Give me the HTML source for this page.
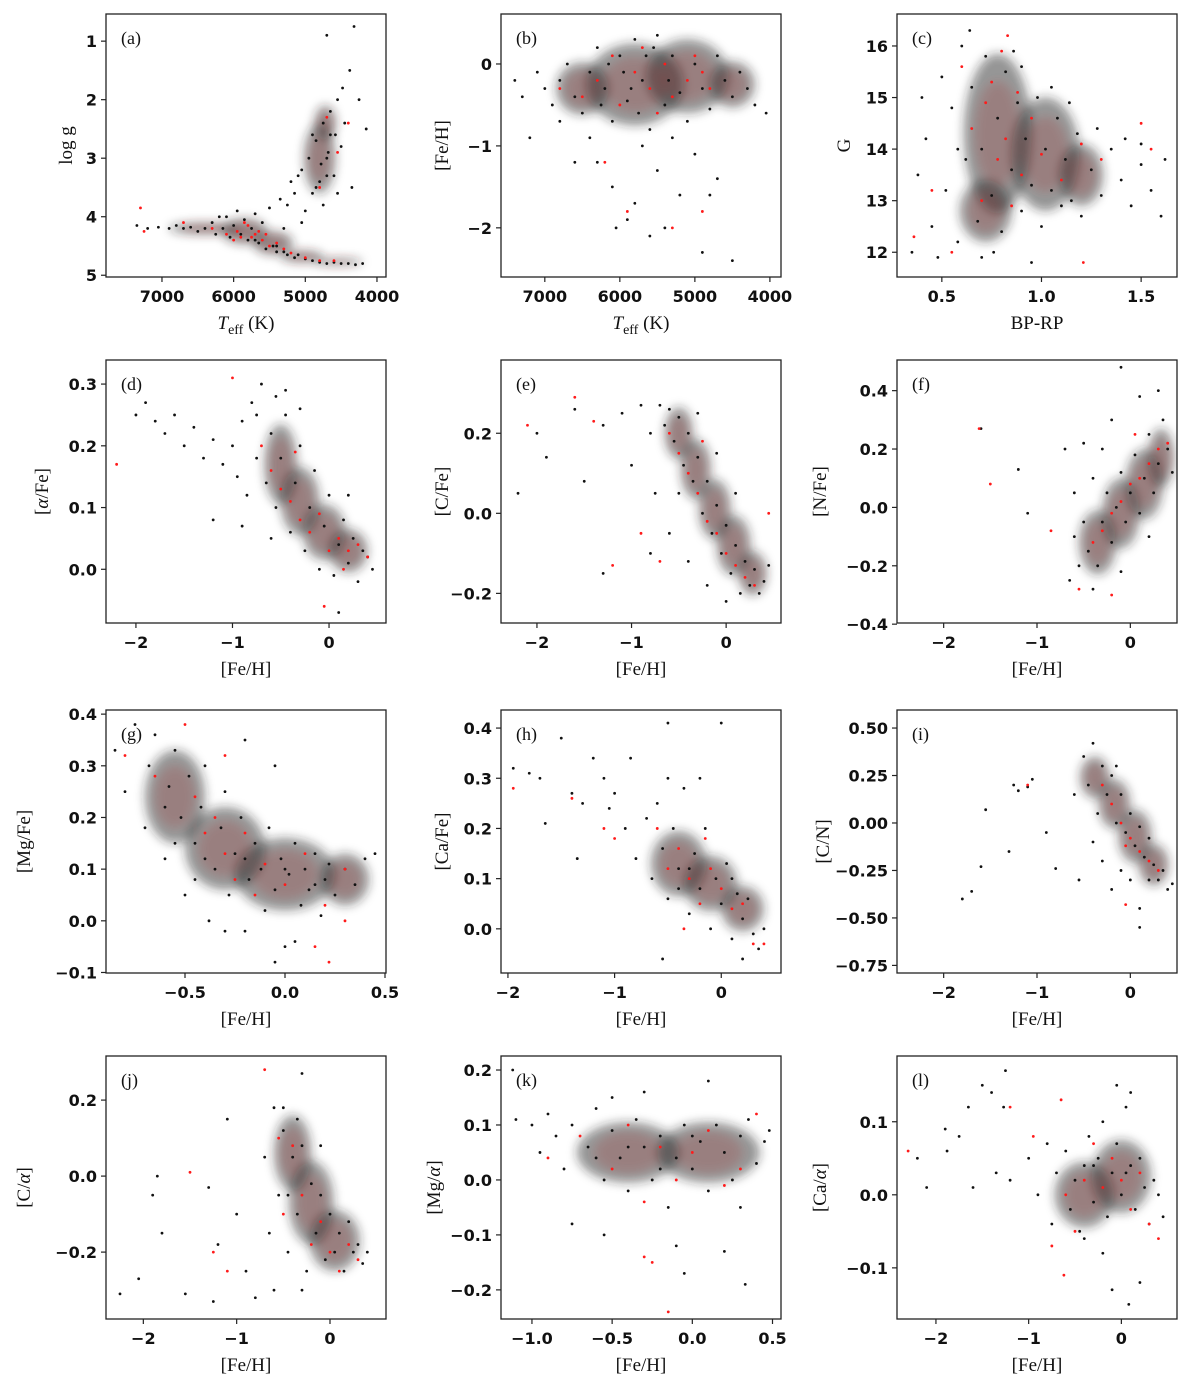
<!DOCTYPE html>
<html><head><meta charset="utf-8"><style>
html,body{margin:0;padding:0;background:#fff;}
svg{display:block;}
.tick{font-family:"DejaVu Sans","Liberation Sans",sans-serif;font-size:16px;font-weight:bold;fill:#111;}
.lab{font-family:"Liberation Serif","DejaVu Serif",serif;font-size:19px;fill:#111;}
.plab{font-family:"Liberation Serif","DejaVu Serif",serif;font-size:18px;fill:#111;}
</style></head><body>
<svg id="fig" width="1200" height="1383" viewBox="0 0 1200 1383" xmlns="http://www.w3.org/2000/svg">
<defs><filter id="blur" x="-50%" y="-50%" width="200%" height="200%"><feGaussianBlur stdDeviation="5"/></filter></defs>
</svg>
<script>
// ---------- data ----------
const A_black=[[7350,4.15],[7200,4.2],[7050,4.18],[6900,4.2],[6800,4.15],[6700,4.2],[6600,4.18],[6500,4.25],[6400,4.2],[6300,4.1],[6250,4.3],[6150,4.2],[6100,4.0],[6050,4.35],[6000,4.15],[5950,3.9],[5900,4.3],[5850,4.05],[5800,4.4],[5750,4.2],[5700,3.95],[5650,4.45],[5600,4.1],[5550,4.55],[5500,3.85],[5450,4.5],[5400,4.6],[5350,3.7],[5300,4.6],[5250,4.65],[5200,3.4],[5150,4.7],[5100,4.65],[5050,3.2],[5000,4.72],[4950,3.0],[4900,4.75],[4850,2.7],[4800,4.78],[4780,3.1],[4750,2.4],[4700,4.8],[4680,2.9],[4650,2.2],[4600,4.78],[4580,2.6],[4550,2.0],[4500,4.8],[4480,1.8],[4450,2.4],[4400,4.8],[4380,1.5],[4350,3.5],[4300,4.82],[4250,2.0],[4200,4.8],[4150,2.5],[4600,3.3],[4900,3.6],[5050,4.1],[5300,4.2],[4700,0.9],[4320,0.75],[5400,4.5],[5700,4.4],[6200,4.0],[4800,3.4],[4700,3.0],[4900,2.6],[4500,2.8],[4550,3.6],[4750,3.8],[4850,3.5],[4650,2.6],[4700,3.3],[5000,3.9],[5150,3.6],[5250,3.8],[5100,3.3]];
const A_red=[[7300,3.85],[7250,4.25],[6700,4.1],[6300,4.2],[6100,4.3],[5950,4.25],[5900,4.35],[5800,4.15],[5750,4.35],[5700,4.3],[5600,4.4],[5550,4.3],[5500,4.5],[5400,4.45],[5300,4.55],[5200,4.62],[5000,4.7],[4800,4.75],[4700,2.3],[4600,4.75],[4550,2.9],[4400,2.4],[6000,4.4],[5850,4.1],[5650,4.25],[4800,3.5]];
const A_core=[[6400,4.2,500,0.1],[5850,4.25,320,0.22],[5450,4.45,280,0.2],[5050,4.68,300,0.1],[4550,4.77,350,0.06],[4800,3.0,220,0.6],[4720,2.4,150,0.3]];
const B_black=[[7400,-0.2],[7300,-0.4],[7100,-0.1],[7000,-0.3],[6900,-0.5],[6800,-0.2],[6700,0.0],[6600,-0.4],[6500,-0.6],[6400,-0.1],[6300,0.2],[6200,-0.3],[6100,-0.7],[6000,0.1],[5900,-0.45],[5800,0.3],[5700,-0.2],[5600,-0.8],[5500,0.35],[5400,-0.5],[5300,0.1],[5200,-0.35],[5100,-0.7],[5000,0.0],[4900,-0.3],[4800,-0.55],[4700,0.1],[4600,-0.2],[4500,-0.4],[4400,-0.1],[4300,-0.3],[4200,-0.5],[4050,-0.6],[6300,-1.2],[6100,-1.5],[5900,-1.9],[5700,-1.0],[5500,-1.3],[5400,-2.0],[5200,-1.6],[5000,-1.1],[4900,-2.3],[4500,-2.4],[6400,-0.9],[5800,-1.7],[5600,-2.1],[5300,-0.9],[6800,-0.7],[4700,-1.4],[6050,-2.0],[5550,0.2],[5950,-0.1],[6150,0.0],[5650,0.1],[5350,-0.2],[5750,-0.6],[6250,-0.5],[5850,-0.3],[7200,-0.9],[6600,-1.2],[4800,-1.6]];
const B_red=[[6800,-0.3],[6300,-0.2],[6000,-0.5],[5800,-0.1],[5700,0.2],[5600,-0.3],[5500,-0.6],[5400,0.0],[5300,-0.4],[5100,-0.2],[4900,-0.1],[6500,-0.4],[6100,0.1],[6200,-1.2],[5300,-2.0],[5000,0.1],[4800,-0.3],[5900,-1.8],[4900,-1.8]];
const B_core=[[5800,-0.25,650,0.5],[5100,-0.15,550,0.45],[6500,-0.3,350,0.32],[4500,-0.25,300,0.28]];
const C_black=[[0.35,12.0],[0.38,13.5],[0.42,14.2],[0.45,12.5],[0.5,15.4],[0.52,13.2],[0.55,14.8],[0.58,12.2],[0.6,16.0],[0.62,13.8],[0.65,15.2],[0.68,12.6],[0.7,14.0],[0.72,15.8],[0.75,13.1],[0.78,14.6],[0.8,12.4],[0.82,15.5],[0.85,13.6],[0.88,14.9],[0.9,12.8],[0.92,14.2],[0.95,13.3],[0.98,15.0],[1.0,12.5],[1.02,14.0],[1.05,13.2],[1.08,14.6],[1.1,12.9],[1.12,13.8],[1.15,13.0],[1.18,14.3],[1.2,12.7],[1.25,13.6],[1.3,13.1],[1.35,14.0],[1.4,13.4],[1.45,12.9],[1.5,13.7],[1.55,13.2],[1.6,12.7],[1.62,13.8],[0.4,15.0],[0.48,11.9],[0.64,16.3],[0.86,15.9],[0.95,11.8],[1.05,15.2],[0.7,11.9],[1.28,14.4],[0.58,14.0],[0.76,12.0],[0.9,15.6],[1.14,14.9],[1.42,14.2],[1.5,14.1]];
const C_red=[[0.6,15.6],[0.65,14.4],[0.7,13.0],[0.72,14.9],[0.75,15.3],[0.78,13.8],[0.8,15.9],[0.82,14.2],[0.85,12.9],[0.88,15.1],[0.9,13.5],[0.95,14.6],[1.0,13.9],[1.1,13.4],[1.3,13.8],[1.5,14.5],[0.45,13.2],[0.36,12.3],[0.55,12.0],[1.2,14.1],[0.83,16.2],[1.21,11.8],[1.55,14.0]];
const C_core=[[0.78,14.3,0.17,1.55],[1.02,13.9,0.17,1.1],[0.72,12.8,0.13,0.6],[1.2,13.5,0.11,0.6]];
const D_black=[[-2.0,0.25],[-1.9,0.27],[-1.8,0.24],[-1.7,0.22],[-1.6,0.25],[-1.5,0.2],[-1.4,0.23],[-1.3,0.18],[-1.2,0.21],[-1.1,0.17],[-1.0,0.2],[-0.95,0.15],[-0.9,0.24],[-0.85,0.12],[-0.8,0.27],[-0.75,0.18],[-0.7,0.3],[-0.65,0.14],[-0.6,0.22],[-0.55,0.1],[-0.5,0.18],[-0.45,0.25],[-0.4,0.06],[-0.35,0.14],[-0.3,0.2],[-0.25,0.03],[-0.2,0.1],[-0.15,0.16],[-0.1,0.0],[-0.05,0.07],[0.0,0.12],[0.05,-0.01],[0.1,0.04],[0.15,0.08],[0.2,0.01],[0.25,0.05],[0.3,-0.02],[0.35,0.03],[0.4,0.02],[0.45,0.0],[-0.45,0.29],[0.1,-0.07],[-0.9,0.07],[-0.6,0.05],[0.2,0.12],[-0.3,0.26],[-0.75,0.25],[-0.55,0.28],[-1.2,0.08]];
const D_red=[[-2.2,0.17],[-1.0,0.31],[-0.7,0.2],[-0.6,0.16],[-0.5,0.13],[-0.4,0.11],[-0.3,0.08],[-0.2,0.06],[-0.1,0.09],[0.0,0.03],[0.1,0.05],[0.2,0.03],[0.3,0.04],[0.4,0.02],[-0.05,-0.06],[-0.35,0.19],[0.15,0.0]];
const D_core=[[-0.5,0.17,0.17,0.065],[-0.3,0.11,0.2,0.055],[-0.05,0.06,0.22,0.045],[0.2,0.03,0.2,0.035]];
const E_black=[[-2.2,0.05],[-2.0,0.2],[-1.9,0.14],[-1.6,0.26],[-1.5,0.08],[-1.3,0.22],[-1.1,0.25],[-1.0,0.12],[-0.9,0.27],[-0.8,0.2],[-0.75,0.05],[-0.7,0.27],[-0.65,0.22],[-0.6,0.26],[-0.55,0.18],[-0.5,0.24],[-0.45,0.12],[-0.4,0.2],[-0.35,0.08],[-0.3,0.14],[-0.25,0.0],[-0.2,0.08],[-0.15,-0.05],[-0.1,0.02],[-0.05,-0.1],[0.0,-0.03],[0.05,-0.15],[0.1,-0.08],[0.15,-0.2],[0.2,-0.12],[0.25,-0.18],[0.3,-0.14],[0.35,-0.2],[0.4,-0.17],[0.45,-0.13],[-0.6,-0.05],[-0.4,-0.12],[-0.2,-0.18],[0.0,-0.22],[-0.8,-0.1],[-1.3,-0.15],[-0.3,0.25],[-0.1,0.15],[-0.5,0.05],[0.1,0.05]];
const E_red=[[-2.1,0.22],[-1.6,0.29],[-1.4,0.23],[-1.2,-0.13],[-0.9,-0.05],[-0.6,0.2],[-0.5,0.15],[-0.4,0.1],[-0.3,0.05],[-0.2,-0.02],[-0.1,-0.05],[0.0,-0.1],[0.1,-0.13],[0.2,-0.16],[0.3,-0.18],[-0.7,-0.12],[-0.25,0.18],[0.45,0.0]];
const E_core=[[-0.5,0.2,0.15,0.065],[-0.32,0.11,0.16,0.075],[-0.12,0.01,0.17,0.075],[0.08,-0.08,0.18,0.075],[0.28,-0.15,0.15,0.055]];
const F_black=[[-1.6,0.27],[-1.2,0.13],[-1.1,-0.02],[-0.7,0.2],[-0.6,-0.1],[-0.55,-0.2],[-0.5,-0.05],[-0.45,-0.15],[-0.4,0.1],[-0.35,-0.2],[-0.3,-0.05],[-0.25,0.05],[-0.2,-0.12],[-0.15,0.0],[-0.1,0.12],[-0.05,-0.05],[0.0,0.05],[0.05,0.18],[0.1,-0.02],[0.15,0.1],[0.2,0.25],[0.25,0.05],[0.3,0.15],[0.35,0.3],[0.4,0.2],[0.45,0.12],[0.1,0.38],[-0.1,0.48],[-0.2,0.3],[-0.4,-0.28],[-0.1,-0.22],[0.3,0.4],[-0.3,0.2],[0.2,-0.1],[-0.6,0.05],[-0.65,-0.25],[-0.5,0.22]];
const F_red=[[-1.62,0.27],[-1.5,0.08],[-0.55,-0.28],[-0.4,-0.12],[-0.3,-0.08],[-0.2,-0.02],[-0.1,0.02],[0.0,0.08],[0.1,0.1],[0.2,0.15],[0.3,0.2],[0.4,0.22],[-0.2,-0.3],[0.05,0.25],[-0.85,-0.08]];
const F_core=[[-0.35,-0.12,0.2,0.11],[-0.1,-0.02,0.2,0.12],[0.15,0.08,0.2,0.12],[0.33,0.17,0.14,0.1]];
const G_black=[[-0.85,0.33],[-0.8,0.25],[-0.75,0.38],[-0.7,0.18],[-0.68,0.3],[-0.65,0.36],[-0.6,0.12],[-0.58,0.26],[-0.55,0.33],[-0.52,0.2],[-0.5,0.05],[-0.48,0.28],[-0.45,0.15],[-0.42,0.22],[-0.4,0.3],[-0.38,0.0],[-0.35,0.1],[-0.32,0.18],[-0.3,0.25],[-0.28,0.05],[-0.25,0.13],[-0.22,0.2],[-0.2,-0.02],[-0.18,0.08],[-0.15,0.15],[-0.12,0.1],[-0.1,0.02],[-0.08,0.18],[-0.05,0.06],[-0.02,0.12],[0.0,-0.05],[0.02,0.09],[0.05,0.15],[0.08,0.03],[0.1,0.1],[0.12,0.06],[0.15,0.13],[0.18,0.01],[0.2,0.08],[0.22,0.11],[0.25,0.05],[0.3,0.1],[0.35,0.07],[0.4,0.12],[0.45,0.13],[-0.05,-0.08],[0.05,-0.04],[-0.3,-0.02],[-0.6,0.22],[-0.4,0.12],[-0.2,0.12],[0.0,0.1],[0.15,0.07],[-0.55,0.15],[-0.45,0.08],[-0.05,0.3],[-0.2,0.35]];
const G_red=[[-0.8,0.32],[-0.65,0.28],[-0.5,0.38],[-0.45,0.24],[-0.4,0.17],[-0.35,0.2],[-0.3,0.13],[-0.25,0.08],[-0.2,0.17],[-0.15,0.05],[-0.1,0.11],[0.0,0.07],[0.1,0.13],[0.2,0.03],[0.22,-0.08],[0.15,-0.05],[-0.3,0.32],[0.3,0.0],[0.3,0.1]];
const G_core=[[-0.55,0.24,0.15,0.09],[-0.3,0.14,0.2,0.08],[0.0,0.09,0.25,0.07],[0.3,0.08,0.12,0.05]];
const H_black=[[-1.95,0.32],[-1.8,0.31],[-1.7,0.3],[-1.65,0.21],[-1.5,0.38],[-1.4,0.27],[-1.3,0.25],[-1.2,0.34],[-1.1,0.3],[-1.0,0.27],[-0.9,0.2],[-0.85,0.34],[-0.8,0.14],[-0.7,0.22],[-0.65,0.1],[-0.6,0.25],[-0.55,0.16],[-0.5,0.06],[-0.45,0.2],[-0.4,0.12],[-0.35,0.28],[-0.3,0.03],[-0.25,0.15],[-0.2,0.08],[-0.15,0.2],[-0.1,0.0],[-0.05,0.1],[0.0,0.05],[0.05,0.13],[0.1,-0.02],[0.15,0.07],[0.2,0.02],[0.25,0.06],[0.3,-0.01],[0.35,-0.04],[0.4,0.0],[-0.5,0.41],[0.0,0.41],[-0.55,-0.06],[0.2,-0.06],[-0.5,0.3],[-0.2,0.3],[-0.4,0.08],[0.1,0.1],[-0.3,0.12],[-1.35,0.14],[-1.05,0.24]];
const H_red=[[-1.95,0.28],[-1.4,0.26],[-1.1,0.2],[-1.0,0.18],[-0.6,0.2],[-0.5,0.12],[-0.4,0.16],[-0.3,0.1],[-0.2,0.05],[-0.1,0.12],[0.0,0.08],[0.1,0.04],[0.2,0.05],[0.3,-0.03],[0.4,-0.03],[-0.35,0.0],[-0.15,0.18]];
const H_core=[[-0.4,0.13,0.26,0.065],[-0.1,0.09,0.25,0.055],[0.2,0.04,0.2,0.045]];
const I_black=[[-1.8,-0.4],[-1.7,-0.36],[-1.6,-0.23],[-1.55,0.07],[-1.25,0.2],[-1.2,0.17],[-1.05,0.23],[-1.1,0.19],[-0.9,-0.05],[-0.6,0.15],[-0.55,-0.3],[-0.5,0.35],[-0.45,0.2],[-0.4,0.42],[-0.35,0.05],[-0.3,0.3],[-0.3,-0.2],[-0.25,0.15],[-0.2,0.25],[-0.2,-0.35],[-0.15,0.0],[-0.1,0.15],[-0.1,-0.25],[-0.05,-0.05],[0.0,0.05],[0.0,-0.3],[0.05,-0.12],[0.1,-0.02],[0.1,-0.45],[0.15,-0.18],[0.2,-0.08],[0.2,-0.3],[0.25,-0.22],[0.3,-0.3],[0.35,-0.25],[0.4,-0.35],[0.45,-0.32],[0.1,-0.55],[-0.4,-0.1],[-0.15,0.3],[-1.3,-0.15],[-0.8,-0.24]];
const I_red=[[-1.1,0.2],[-0.3,0.2],[-0.2,0.1],[-0.1,0.0],[0.0,-0.08],[0.1,-0.15],[0.2,-0.2],[0.3,-0.25],[-0.05,-0.12],[-0.05,-0.43]];
const I_core=[[-0.38,0.24,0.16,0.11],[-0.17,0.1,0.17,0.13],[0.05,-0.07,0.18,0.14],[0.25,-0.22,0.16,0.11]];
const J_black=[[-2.25,-0.31],[-2.05,-0.27],[-1.9,-0.05],[-1.85,0.0],[-1.8,-0.15],[-1.55,-0.31],[-1.3,-0.03],[-1.25,-0.33],[-1.2,-0.18],[-1.1,0.15],[-1.0,-0.1],[-0.9,-0.25],[-0.8,-0.32],[-0.7,0.05],[-0.65,-0.15],[-0.6,0.18],[-0.55,-0.05],[-0.5,0.12],[-0.45,-0.2],[-0.4,0.05],[-0.35,-0.1],[-0.3,0.08],[-0.25,-0.25],[-0.2,-0.02],[-0.15,-0.15],[-0.1,-0.05],[-0.05,-0.22],[0.0,-0.1],[0.05,-0.2],[0.1,-0.15],[0.15,-0.25],[0.2,-0.12],[0.25,-0.2],[0.3,-0.18],[0.35,-0.23],[0.4,-0.2],[-0.5,0.18],[-0.35,0.15],[-0.6,-0.3],[-0.3,-0.3],[-0.1,0.08],[-0.45,-0.05],[-0.3,0.27]];
const J_red=[[-1.5,0.01],[-1.25,-0.2],[-1.1,-0.25],[-0.7,0.28],[-0.5,-0.1],[-0.4,0.08],[-0.3,-0.05],[-0.2,-0.18],[-0.1,-0.12],[0.0,-0.2],[0.1,-0.25],[0.2,-0.18],[0.3,-0.22],[-0.55,0.1]];
const J_core=[[-0.4,0.06,0.2,0.1],[-0.2,-0.07,0.24,0.11],[0.05,-0.17,0.27,0.08]];
const K_black=[[-1.1,0.11],[-1.0,0.1],[-0.95,0.05],[-0.9,0.12],[-0.85,0.08],[-0.8,0.02],[-0.75,0.1],[-0.75,-0.08],[-0.65,0.06],[-0.6,0.13],[-0.55,0.0],[-0.5,0.09],[-0.45,0.04],[-0.4,-0.02],[-0.35,0.11],[-0.3,0.06],[-0.25,0.0],[-0.2,0.08],[-0.15,-0.05],[-0.1,0.04],[-0.05,0.1],[0.0,0.02],[0.05,0.07],[0.1,-0.02],[0.15,0.1],[0.2,0.05],[0.25,0.0],[0.3,0.08],[0.35,0.11],[0.4,0.03],[0.45,0.07],[0.48,0.09],[-0.5,0.15],[-0.3,0.16],[0.1,0.18],[-0.1,-0.12],[-0.55,-0.1],[0.3,-0.05],[0.2,-0.13],[0.33,-0.19],[-0.4,0.06],[-0.2,0.02],[0.0,0.08],[-0.6,0.04],[-1.12,0.2],[-0.05,-0.17]];
const K_red=[[-0.9,0.04],[-0.7,0.08],[-0.5,0.02],[-0.4,0.1],[-0.3,-0.04],[-0.2,0.06],[-0.1,0.0],[0.0,0.05],[0.1,0.09],[0.2,-0.01],[0.3,0.02],[-0.25,-0.15],[-0.15,-0.24],[-0.3,-0.14],[0.4,0.12]];
const K_core=[[-0.4,0.05,0.32,0.055],[0.1,0.05,0.32,0.055]];
const L_black=[[-2.2,0.05],[-2.1,0.01],[-1.9,0.09],[-1.88,0.06],[-1.75,0.08],[-1.65,0.12],[-1.6,0.01],[-1.5,0.15],[-1.4,0.14],[-1.35,0.03],[-1.25,0.17],[-1.27,0.12],[-1.2,0.02],[-1.0,0.05],[-0.9,0.0],[-0.8,0.07],[-0.75,-0.04],[-0.7,0.03],[-0.6,0.06],[-0.55,-0.02],[-0.5,0.02],[-0.45,-0.05],[-0.4,0.04],[-0.35,0.08],[-0.3,-0.01],[-0.25,0.05],[-0.2,0.1],[-0.15,-0.03],[-0.1,0.03],[-0.05,0.07],[0.0,0.0],[0.05,0.12],[0.1,0.04],[0.15,-0.02],[0.2,0.05],[0.25,0.01],[0.3,-0.04],[0.35,0.02],[0.4,0.0],[0.45,-0.03],[0.1,0.14],[-0.1,-0.13],[0.08,-0.15],[0.2,-0.12],[-0.2,-0.08],[-0.4,-0.06],[0.05,0.03],[-0.3,0.04],[-0.05,0.15]];
const L_red=[[-2.3,0.06],[-1.2,0.12],[-0.95,0.08],[-0.65,0.13],[-0.75,-0.07],[-0.6,0.0],[-0.5,-0.05],[-0.4,0.02],[-0.3,0.07],[-0.2,0.01],[-0.1,0.05],[0.0,0.02],[0.1,-0.02],[0.2,0.03],[0.3,-0.04],[0.4,-0.06],[-0.62,-0.11]];
const L_core=[[-0.4,0.0,0.32,0.045],[0.0,0.025,0.32,0.05]];

// tick values and labels
const A_xt=[7000,6000,5000,4000], A_xl=["7000","6000","5000","4000"], A_yt=[1,2,3,4,5], A_yl=["1","2","3","4","5"];
const B_xt=[7000,6000,5000,4000], B_xl=["7000","6000","5000","4000"], B_yt=[0,-1,-2], B_yl=["0","−1","−2"];
const C_xt=[0.5,1.0,1.5], C_xl=["0.5","1.0","1.5"], C_yt=[16,15,14,13,12], C_yl=["16","15","14","13","12"];
const D_xt=[-2,-1,0], D_xl=["−2","−1","0"], D_yt=[0.3,0.2,0.1,0.0], D_yl=["0.3","0.2","0.1","0.0"];
const E_xt=[-2,-1,0], E_xl=["−2","−1","0"], E_yt=[0.2,0.0,-0.2], E_yl=["0.2","0.0","−0.2"];
const F_xt=[-2,-1,0], F_xl=["−2","−1","0"], F_yt=[0.4,0.2,0.0,-0.2,-0.4], F_yl=["0.4","0.2","0.0","−0.2","−0.4"];
const G_xt=[-0.5,0.0,0.5], G_xl=["−0.5","0.0","0.5"], G_yt=[0.4,0.3,0.2,0.1,0.0,-0.1], G_yl=["0.4","0.3","0.2","0.1","0.0","−0.1"];
const H_xt=[-2,-1,0], H_xl=["−2","−1","0"], H_yt=[0.4,0.3,0.2,0.1,0.0], H_yl=["0.4","0.3","0.2","0.1","0.0"];
const I_xt=[-2,-1,0], I_xl=["−2","−1","0"], I_yt=[0.5,0.25,0,-0.25,-0.5,-0.75], I_yl=["0.50","0.25","0.00","−0.25","−0.50","−0.75"];
const J_xt=[-2,-1,0], J_xl=["−2","−1","0"], J_yt=[0.2,0.0,-0.2], J_yl=["0.2","0.0","−0.2"];
const K_xt=[-1.0,-0.5,0.0,0.5], K_xl=["−1.0","−0.5","0.0","0.5"], K_yt=[0.2,0.1,0.0,-0.1,-0.2], K_yl=["0.2","0.1","0.0","−0.1","−0.2"];
const L_xt=[-2,-1,0], L_xl=["−2","−1","0"], L_yt=[0.1,0.0,-0.1], L_yl=["0.1","0.0","−0.1"];

// ---------- layout ----------
const NS="http://www.w3.org/2000/svg";
const svg=document.getElementById('fig');
const COLS=[106,501,897], ROWS=[14,360,710,1056], W=280, H=263;
const panels=[
 {id:'a',c:0,r:0,xd:[7781,3874],yd:[0.536,5.03],b:A_black,rd:A_red,core:A_core,xt:A_xt,xl:A_xl,yt:A_yt,yl:A_yl,xlab:'teff',ylab:'log g',ylx:72},
 {id:'b',c:1,r:0,xd:[7584,3852],yd:[0.61,-2.6],b:B_black,rd:B_red,core:B_core,xt:B_xt,xl:B_xl,yt:B_yt,yl:B_yl,xlab:'teff',ylab:'[Fe/H]',ylx:448},
 {id:'c',c:2,r:0,xd:[0.275,1.68],yd:[16.62,11.52],b:C_black,rd:C_red,core:C_core,xt:C_xt,xl:C_xl,yt:C_yt,yl:C_yl,xlab:'BP-RP',ylab:'G',ylx:850},
 {id:'d',c:0,r:1,xd:[-2.31,0.59],yd:[0.339,-0.087],b:D_black,rd:D_red,core:D_core,xt:D_xt,xl:D_xl,yt:D_yt,yl:D_yl,xlab:'[Fe/H]',ylab:'alpha',ylx:48},
 {id:'e',c:1,r:1,xd:[-2.38,0.58],yd:[0.383,-0.274],b:E_black,rd:E_red,core:E_core,xt:E_xt,xl:E_xl,yt:E_yt,yl:E_yl,xlab:'[Fe/H]',ylab:'[C/Fe]',ylx:448},
 {id:'f',c:2,r:1,xd:[-2.5,0.5],yd:[0.505,-0.396],b:F_black,rd:F_red,core:F_core,xt:F_xt,xl:F_xl,yt:F_yt,yl:F_yl,xlab:'[Fe/H]',ylab:'[N/Fe]',ylx:826},
 {id:'g',c:0,r:2,xd:[-0.895,0.505],yd:[0.408,-0.101],b:G_black,rd:G_red,core:G_core,xt:G_xt,xl:G_xl,yt:G_yt,yl:G_yl,xlab:'[Fe/H]',ylab:'[Mg/Fe]',ylx:30},
 {id:'h',c:1,r:2,xd:[-2.065,0.56],yd:[0.436,-0.088],b:H_black,rd:H_red,core:H_core,xt:H_xt,xl:H_xl,yt:H_yt,yl:H_yl,xlab:'[Fe/H]',ylab:'[Ca/Fe]',ylx:448},
 {id:'i',c:2,r:2,xd:[-2.5,0.5],yd:[0.595,-0.79],b:I_black,rd:I_red,core:I_core,xt:I_xt,xl:I_xl,yt:I_yt,yl:I_yl,xlab:'[Fe/H]',ylab:'[C/N]',ylx:829},
 {id:'j',c:0,r:3,xd:[-2.4,0.6],yd:[0.316,-0.376],b:J_black,rd:J_red,core:J_core,xt:J_xt,xl:J_xl,yt:J_yt,yl:J_yl,xlab:'[Fe/H]',ylab:'calpha',ylx:30},
 {id:'k',c:1,r:3,xd:[-1.193,0.553],yd:[0.2255,-0.253],b:K_black,rd:K_red,core:K_core,xt:K_xt,xl:K_xl,yt:K_yt,yl:K_yl,xlab:'[Fe/H]',ylab:'mgalpha',ylx:440},
 {id:'l',c:2,r:3,xd:[-2.42,0.6],yd:[0.19,-0.17],b:L_black,rd:L_red,core:L_core,xt:L_xt,xl:L_xl,yt:L_yt,yl:L_yl,xlab:'[Fe/H]',ylab:'caalpha',ylx:826}
];
function mk(tag,attrs,parent){const e=document.createElementNS(NS,tag);for(const k in attrs)e.setAttribute(k,attrs[k]);(parent||svg).appendChild(e);return e;}
function ts(parent,txt,attrs){const t=mk('tspan',attrs||{},parent);t.textContent=txt;return t;}
function ylabText(t,key){
  if(key==='alpha'){ts(t,'[');ts(t,'α',{'font-style':'italic'});ts(t,'/Fe]');}
  else if(key==='calpha'){ts(t,'[C/');ts(t,'α',{'font-style':'italic'});ts(t,']');}
  else if(key==='mgalpha'){ts(t,'[Mg/');ts(t,'α',{'font-style':'italic'});ts(t,']');}
  else if(key==='caalpha'){ts(t,'[Ca/');ts(t,'α',{'font-style':'italic'});ts(t,']');}
  else t.textContent=key;
}
panels.forEach(p=>{
  const L=COLS[p.c], T=ROWS[p.r];
  const sx=v=>L+(v-p.xd[0])/(p.xd[1]-p.xd[0])*W;
  const sy=v=>T+(v-p.yd[0])/(p.yd[1]-p.yd[0])*H;
  const g=mk('g',{});
  
  
  const clip=mk('clipPath',{id:'cl'+p.id},g);
  mk('rect',{x:L,y:T,width:W,height:H},clip);
  const pts=mk('g',{'clip-path':'url(#cl'+p.id+')'},g);
  
  
  const dens=mk('g',{filter:'url(#blur)'},pts);
  
  
  p.core.forEach(c=>{
    const e=mk('ellipse',{cx:sx(c[0]),cy:sy(c[1]),rx:Math.abs(sx(c[0]+c[2])-sx(c[0])),ry:Math.abs(sy(c[1]+c[3])-sy(c[1])),fill:'#222','fill-opacity':0.48},dens);
    
    
  });
  p.core.forEach(c=>{
    const e=mk('ellipse',{cx:sx(c[0]),cy:sy(c[1]),rx:0.65*Math.abs(sx(c[0]+c[2])-sx(c[0])),ry:0.65*Math.abs(sy(c[1]+c[3])-sy(c[1])),fill:'#b02018','fill-opacity':0.18},dens);
    
    
  });
  p.b.forEach(d=>{
    const e=mk('circle',{cx:sx(d[0]),cy:sy(d[1]),r:1.4,fill:'#111'},pts);
    
    
  });
  p.rd.forEach(d=>{
    const e=mk('circle',{cx:sx(d[0]),cy:sy(d[1]),r:1.4,fill:'#ff1a1a'},pts);
    
    
  });
  const fr=mk('rect',{x:L,y:T,width:W,height:H,fill:'none',stroke:'#222','stroke-width':1.3},g);
  
  
  p.xt.forEach((v,i)=>{
    const x=sx(v);
    mk('line',{x1:x,x2:x,y1:T+H,y2:T+H+5,stroke:'#222','stroke-width':1.2},g);
    const t=mk('text',{x:x,y:T+H+25,'text-anchor':'middle',class:'tick'},g);
    t.textContent=p.xl[i];
    
    
  });
  p.yt.forEach((v,i)=>{
    const y=sy(v);
    mk('line',{x1:L-5,x2:L,y1:y,y2:y,stroke:'#222','stroke-width':1.2},g);
    const t=mk('text',{x:L-9,y:y+6,'text-anchor':'end',class:'tick'},g);
    t.textContent=p.yl[i];
    
    
  });
  const pl=mk('text',{x:L+15,y:T+30,class:'plab'},g);
  pl.textContent='('+p.id+')';
  
  
  const xl=mk('text',{x:L+W/2,y:T+H+52,'text-anchor':'middle',class:'lab'},g);
  if(p.xlab==='teff'){ts(xl,'T',{'font-style':'italic'});ts(xl,'eff',{'font-size':'14px',dy:'5'});ts(xl,'  (K)',{dy:'-5'});}
  else xl.textContent=p.xlab;
  
  
  const yl=mk('text',{x:p.ylx,y:T+H/2,'text-anchor':'middle',class:'lab',transform:'rotate(-90 '+p.ylx+' '+(T+H/2)+')'},g);
  ylabText(yl,p.ylab);
  
  
});
</script>
</body></html>
